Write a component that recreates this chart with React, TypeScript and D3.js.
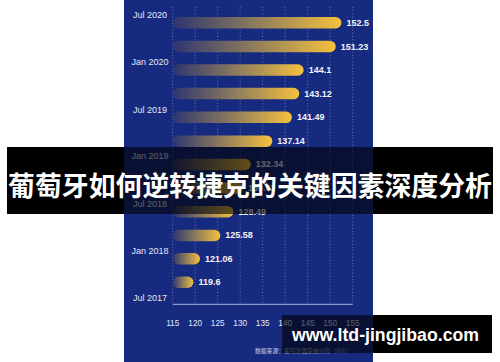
import React from "react";
import * as d3 from "d3";

const quarterDates = [
  "2017-09-01", "2017-12-01", "2018-03-01", "2018-06-01",
  "2018-09-01", "2018-12-01", "2019-03-01", "2019-06-01",
  "2019-09-01", "2019-12-01", "2020-03-01", "2020-06-01",
];
const indexValues = [119.6, 121.06, 125.58, 128.49, 130.62, 132.34, 137.14, 141.49, 143.12, 144.1, 151.23, 152.5];
const xTicks = [115, 120, 125, 130, 135, 140, 145, 150, 155];
const yTickDates = ["2017-07-01", "2018-01-01", "2018-07-01", "2019-01-01", "2019-07-01", "2020-01-01", "2020-07-01"];
const titleText = "葡萄牙如何逆转捷克的关键因素深度分析";
const sourceLabel = "数据来源：";
const sourceText = "葡萄牙国家统计局（INE）";
const watermark = "www.ltd-jingjibao.com";

const W = 500;
const H = 362;
const PANEL_X = 124;
const PANEL_W = 249;
const BLUE = "#162a80";
const FONT = "'Liberation Sans', Arial, sans-serif";
const CJK = "'Noto Sans CJK SC', sans-serif";

export default function App() {
  const parse = d3.timeParse("%Y-%m-%d");
  const x = d3.scaleLinear().domain([115, 155]).range([172.7, 352.7]);
  const y = d3
    .scaleTime()
    .domain([parse("2017-07-01") as Date, parse("2020-07-01") as Date])
    .range([298.3, 15]);
  const fmt = d3.timeFormat("%b %Y");
  const barH = 11.5;
  const data = quarterDates.map((d, i) => ({ date: parse(d) as Date, value: indexValues[i] }));
  const axisY = 304.3;

  return (
    <svg
      width={W}
      height={H}
      style={{ position: "absolute", left: 0, top: 0, display: "block" }}
    >
      <defs>
        <linearGradient id="barGrad" x1="0" y1="0" x2="1" y2="0">
          <stop offset="0" stopColor="#2e3570" />
          <stop offset="0.5" stopColor="#8f7d5c" />
          <stop offset="1" stopColor="#f5c13e" />
        </linearGradient>
      </defs>
      <rect x={0} y={0} width={W} height={H} fill="#ffffff" />
      <rect x={PANEL_X} y={0} width={PANEL_W} height={H} fill={BLUE} />

      {xTicks.map((t) => (
        <line
          key={"g" + t}
          x1={x(t)}
          x2={x(t)}
          y1={7}
          y2={axisY}
          stroke="rgba(255,255,255,0.38)"
          strokeWidth={0.8}
          strokeDasharray="1.2,2"
        />
      ))}
      <line x1={x(115)} x2={x(155)} y1={axisY} y2={axisY} stroke="rgba(205,212,240,0.65)" strokeWidth={1.2} />
      {xTicks.map((t) => (
        <text
          key={"t" + t}
          x={x(t)}
          y={323.5}
          textAnchor="middle"
          dominantBaseline="central"
          fontFamily={FONT}
          fontSize={8.2}
          fill="#e4e8f5"
        >
          {t}
        </text>
      ))}

      {yTickDates.map((d) => {
        const dt = parse(d) as Date;
        return (
          <text
            key={d}
            x={150}
            y={y(dt)}
            textAnchor="middle"
            dominantBaseline="central"
            fontFamily={FONT}
            fontSize={9}
            fill="#e4e8f5"
          >
            {fmt(dt)}
          </text>
        );
      })}

      {data.map((d, i) => (
        <g key={"b" + i}>
          <rect
            x={x(115)}
            y={y(d.date) - barH / 2}
            width={x(d.value) - x(115)}
            height={barH}
            rx={barH / 2}
            fill="url(#barGrad)"
          />
          <text
            x={x(d.value) + 5}
            y={y(d.date)}
            dominantBaseline="central"
            fontFamily={FONT}
            fontWeight="bold"
            fontSize={9}
            fill="#f2f4fa"
          >
            {d.value}
          </text>
        </g>
      ))}

      <text x={255} y={350} dominantBaseline="central" fontFamily={CJK} fontSize={5.8} fill="#9aa2c8">
        <tspan fontWeight="bold">{sourceLabel}</tspan>
        <tspan>{sourceText}</tspan>
      </text>

      {/* title banner */}
      <rect x={7} y={147} width={PANEL_X - 7} height={67} fill="#000" />
      <rect x={PANEL_X} y={147} width={PANEL_W} height={67} fill="#000" opacity={0.6} />
      <rect x={PANEL_X + PANEL_W} y={147} width={493 - PANEL_X - PANEL_W} height={67} fill="#000" />
      <text
        x={250}
        y={184}
        textAnchor="middle"
        dominantBaseline="central"
        fontFamily={CJK}
        fontWeight="bold"
        fontSize={27}
        textLength={484}
        lengthAdjust="spacingAndGlyphs"
        fill="#ffffff"
      >
        {titleText}
      </text>

      {/* watermark */}
      <rect x={282} y={315} width={PANEL_X + PANEL_W - 282} height={38} fill="#000" opacity={0.6} />
      <rect x={PANEL_X + PANEL_W} y={315} width={492 - PANEL_X - PANEL_W} height={38} fill="#000" />
      <text
        x={292}
        y={335}
        dominantBaseline="central"
        fontFamily={FONT}
        fontWeight="bold"
        fontSize={18}
        textLength={187}
        lengthAdjust="spacingAndGlyphs"
        fill="#ffffff"
      >
        {watermark}
      </text>
    </svg>
  );
}
